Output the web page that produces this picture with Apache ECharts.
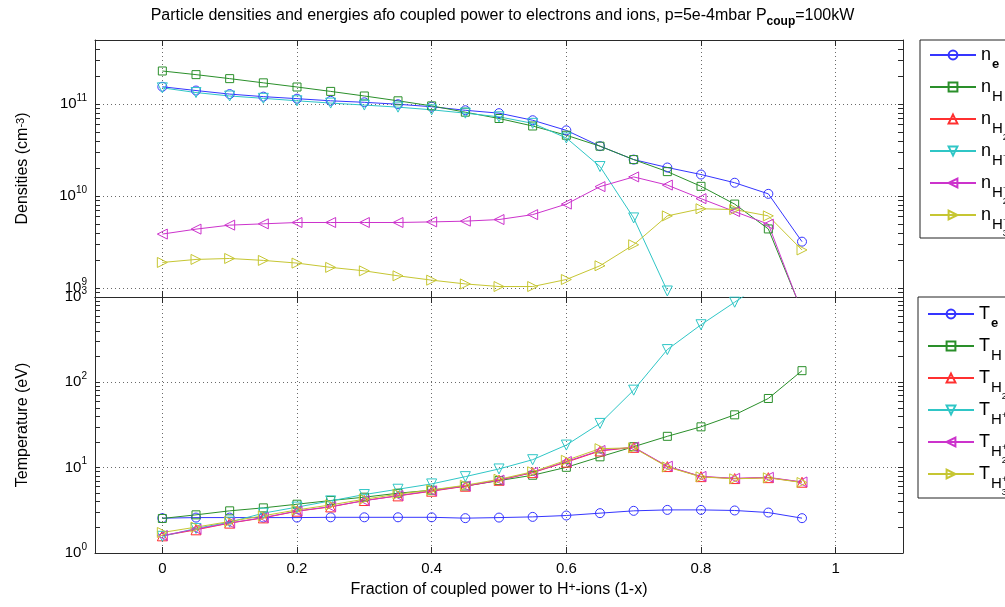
<!DOCTYPE html>
<html>
<head>
<meta charset="utf-8">
<script src="https://cdn.jsdelivr.net/npm/echarts@6/dist/echarts.min.js"></script>
<style>
  html, body { margin: 0; padding: 0; background: #fff; }
  #chart { width: 1005px; height: 607px; }
</style>
</head>
<body>
<div id="chart"></div>
<script>
// Fraction of coupled power to H+ ions (1-x)
const fraction = [0, 0.05, 0.1, 0.15, 0.2, 0.25, 0.3, 0.35, 0.4, 0.45,
                  0.5, 0.55, 0.6, 0.65, 0.7, 0.75, 0.8, 0.85, 0.9, 0.95];

// Densities (cm^-3)
const nE   = [1.55e11, 1.41e11, 1.29e11, 1.21e11, 1.15e11, 1.09e11, 1.05e11, 1.00e11, 9.4e10, 8.6e10,
              8.0e10, 6.7e10, 5.2e10, 3.5e10, 2.5e10, 2.05e10, 1.72e10, 1.40e10, 1.06e10, 3.2e9];
const nH   = [2.30e11, 2.10e11, 1.90e11, 1.71e11, 1.54e11, 1.38e11, 1.23e11, 1.09e11, 9.6e10, 8.2e10,
              7.0e10, 5.8e10, 4.6e10, 3.5e10, 2.5e10, 1.85e10, 1.28e10, 8.2e9, 4.4e9, 5.6e8];
const nH2  = [null, null, null, null, null, null, null, null, null, null,
              null, null, null, null, null, null, null, null, null, null];
const nHp  = [1.51e11, 1.34e11, 1.23e11, 1.16e11, 1.09e11, 1.03e11, 9.8e10, 9.3e10, 8.7e10, 8.0e10,
              7.3e10, 6.2e10, 4.3e10, 2.1e10, 5.8e9, 9.3e8, null, null, null, null];
const nH2p = [3.87e9, 4.38e9, 4.84e9, 5.0e9, 5.17e9, 5.17e9, 5.17e9, 5.17e9, 5.25e9, 5.35e9,
              5.57e9, 6.3e9, 8.2e9, 1.27e10, 1.62e10, 1.32e10, 9.4e9, 6.8e9, 4.96e9, 5.5e8];
const nH3p = [1.90e9, 2.05e9, 2.10e9, 2.0e9, 1.87e9, 1.68e9, 1.54e9, 1.36e9, 1.22e9, 1.11e9,
              1.04e9, 1.04e9, 1.24e9, 1.75e9, 2.96e9, 6.1e9, 7.3e9, 7.15e9, 6.1e9, 2.6e9];

// Temperatures (eV)
const tE   = [2.56, 2.6, 2.6, 2.6, 2.6, 2.62, 2.62, 2.62, 2.62, 2.56,
              2.6, 2.65, 2.75, 2.93, 3.12, 3.2, 3.2, 3.15, 2.98, 2.56];
const tH   = [2.54, 2.8, 3.12, 3.38, 3.73, 4.12, 4.51, 5.02, 5.45, 6.1,
              7.05, 8.15, 10.1, 13.4, 17.6, 23.3, 30.1, 41.6, 64.7, 137];
const tH2  = [1.59, 1.87, 2.24, 2.58, 3.09, 3.47, 4.12, 4.67, 5.3, 6.06,
              7.12, 8.75, 11.6, 15.7, 17.3, 10.3, 7.85, 7.45, 7.64, 6.75];
const tHp  = [1.57, 1.94, 2.3, 2.93, 3.45, 4.08, 4.84, 5.59, 6.45, 7.85,
              9.66, 12.4, 18.4, 33, 81, 242, 473, 869, 1600, 2800];
const tH2p = [1.6, 1.9, 2.25, 2.6, 3.1, 3.5, 4.1, 4.7, 5.35, 6.1,
              7.15, 8.8, 11.8, 15.9, 17.4, 10.4, 7.9, 7.5, 7.7, 6.8];
const tH3p = [1.74, 2.01, 2.34, 2.73, 3.2, 3.66, 4.27, 4.89, 5.49, 6.22,
              7.31, 8.95, 12.2, 16.7, 17.1, 10.2, 7.8, 7.4, 7.6, 6.7];

// Axis ticks
const xTicks = [0, 0.2, 0.4, 0.6, 0.8, 1];
const densityTicks = [1e9, 1e10, 1e11];
const tempTicks = [1, 10, 100, 1000];
const densityRange = [8e8, 5e11];
const tempRange = [1, 1000];
const xRange = [-0.1, 1.1];

const FONT = 'Arial, "Liberation Sans", Helvetica, sans-serif';
const AXIS_COLOR = '#2a2a2a';
const GRID_COLOR = '#6a6a6a';
const TICK_LEN = 5;

const colors = {
  blue: '#3535ff', green: '#2a8f2a', red: '#ff3030',
  cyan: '#2fc6c6', magenta: '#cc33cc', yellow: '#c6c632'
};

// marker: [symbol, rotate, size]
const markers = {
  circle: ['circle', 0, 9],
  square: ['rect', 0, 8],
  up: ['triangle', 0, 10],
  down: ['triangle', 180, 10],
  left: ['triangle', 90, 10],
  right: ['triangle', -90, 10]
};

const densitySeries = [
  { name: 'n_e',   data: nE,   color: colors.blue,    marker: 'circle' },
  { name: 'n_H',   data: nH,   color: colors.green,   marker: 'square' },
  { name: 'n_H2',  data: nH2,  color: colors.red,     marker: 'up' },
  { name: 'n_H+',  data: nHp,  color: colors.cyan,    marker: 'down' },
  { name: 'n_H2+', data: nH2p, color: colors.magenta, marker: 'left' },
  { name: 'n_H3+', data: nH3p, color: colors.yellow,  marker: 'right' }
];
const tempSeries = [
  { name: 'T_e',   data: tE,   color: colors.blue,    marker: 'circle' },
  { name: 'T_H',   data: tH,   color: colors.green,   marker: 'square' },
  { name: 'T_H2',  data: tH2,  color: colors.red,     marker: 'up' },
  { name: 'T_H+',  data: tHp,  color: colors.cyan,    marker: 'down' },
  { name: 'T_H2+', data: tH2p, color: colors.magenta, marker: 'left' },
  { name: 'T_H3+', data: tH3p, color: colors.yellow,  marker: 'right' }
];

// Rich-text legend labels: every token is top aligned and shifted down by its padding
const legendRich = {
  b:  { fontSize: 18, lineHeight: 18, fontFamily: FONT, color: '#000', verticalAlign: 'top' },
  e:  { fontSize: 13, lineHeight: 13, fontWeight: 'bold', fontFamily: FONT, color: '#000', verticalAlign: 'top', padding: [12, 0, 0, 1] },
  s:  { fontSize: 15, lineHeight: 15, fontFamily: FONT, color: '#000', verticalAlign: 'top', padding: [11, 0, 0, 1] },
  sp: { fontSize: 9,  lineHeight: 9,  fontFamily: FONT, color: '#000', verticalAlign: 'top', padding: [10, 0, 0, 0] },
  ss: { fontSize: 9,  lineHeight: 9,  fontFamily: FONT, color: '#000', verticalAlign: 'top', padding: [23, 0, 0, 0], width: 0.1 }
};
function legendText(name) {
  const [sym, sub] = name.split('_');
  const map = {
    'e':   '{e|e}{ss| }',
    'H':   '{s|H}{ss| }',
    'H2':  '{s|H}{ss|2}',
    'H+':  '{s|H}{ss| }{sp|+}',
    'H2+': '{s|H}{ss|2}{sp|+}',
    'H3+': '{s|H}{ss|3}{sp|+}'
  };
  return '{b|' + sym + '}' + map[sub];
}

function buildSeries(list, gridIdx) {
  return list.map(s => {
    const m = markers[s.marker];
    return {
      name: s.name,
      type: 'line',
      xAxisIndex: gridIdx * 2,
      yAxisIndex: gridIdx * 3,
      data: fraction.map((x, i) => [x, s.data[i]]),
      color: s.color,
      symbol: m[0],
      symbolRotate: m[1],
      symbolSize: m[2],
      showAllSymbol: true,
      connectNulls: false,
      clip: true,
      lineStyle: { color: s.color, width: 1 },
      itemStyle: { color: 'rgba(255,255,255,0)', borderColor: s.color, borderWidth: 1 },
      emphasis: { disabled: true }
    };
  });
}

// 1..9 × 10^k tick positions covering a log range
function logTicks(lo, hi) {
  const out = [];
  for (let d = Math.floor(Math.log10(lo)); d <= Math.ceil(Math.log10(hi)); d++) {
    for (let k = 1; k <= 9; k++) {
      const v = k * Math.pow(10, d);
      if (v >= lo * 0.999 && v <= hi * 1.001) out.push(v);
    }
  }
  return out;
}

const tickLabelRich = {
  b:   { fontSize: 15, lineHeight: 22, fontFamily: FONT, color: '#000' },
  sup: { fontSize: 10, lineHeight: 14, fontFamily: FONT, color: '#000', verticalAlign: 'top' }
};

function xAxes(gridIdx, showLabels) {
  const base = {
    type: 'value', gridIndex: gridIdx, min: xRange[0], max: xRange[1],
    axisLine: { show: true, onZero: false, lineStyle: { color: AXIS_COLOR, width: 1 } },
    axisTick: { show: true, inside: true, length: TICK_LEN + 1, customValues: xTicks, lineStyle: { color: AXIS_COLOR } }
  };
  const bottom = Object.assign({}, base, {
    position: 'bottom',
    axisLabel: {
      show: showLabels, customValues: xTicks, margin: 8,
      fontSize: 15, fontFamily: FONT, color: '#000'
    },
    splitLine: { show: true, lineStyle: { color: GRID_COLOR, type: [1, 3], width: 1 } }
  });
  if (showLabels) {
    bottom.name = 'Fraction of coupled power to H{sup|+}-ions (1-x)';
    bottom.nameLocation = 'middle';
    bottom.nameGap = 29;
    bottom.nameTextStyle = {
      fontSize: 16, fontFamily: FONT, color: '#000',
      rich: {
        sup: { fontSize: 12, lineHeight: 16, fontFamily: FONT, color: '#000', verticalAlign: 'top' }
      }
    };
  }
  const top = Object.assign({}, base, {
    position: 'top', axisLabel: { show: false }, splitLine: { show: false }
  });
  return [bottom, top];
}

function yAxes(gridIdx, range, majors, name) {
  const allTicks = logTicks(range[0], range[1]);
  const common = {
    type: 'log', logBase: 10, gridIndex: gridIdx, min: range[0], max: range[1]
  };
  const main = Object.assign({}, common, {
    position: 'left',
    name: name,
    nameLocation: 'middle',
    nameGap: 64,
    nameTextStyle: {
      fontSize: 16, fontFamily: FONT, color: '#000',
      rich: {
        sup: { fontSize: 11, lineHeight: 13, fontFamily: FONT, color: '#000', verticalAlign: 'top' }
      }
    },
    axisLine: { show: true, onZero: false, lineStyle: { color: AXIS_COLOR, width: 1 } },
    axisTick: { show: false, customValues: majors },
    axisLabel: {
      customValues: majors, margin: 8,
      formatter: v => '{b|10}{sup|' + Math.round(Math.log10(v)) + '}',
      rich: tickLabelRich
    },
    splitLine: { show: true, lineStyle: { color: GRID_COLOR, type: [1, 3], width: 1 } }
  });
  const leftTicks = Object.assign({}, common, {
    position: 'left',
    axisLine: { show: false, onZero: false },
    axisTick: { show: true, inside: true, length: TICK_LEN, customValues: allTicks, lineStyle: { color: AXIS_COLOR } },
    axisLabel: { show: false },
    splitLine: { show: false }
  });
  const right = Object.assign({}, common, {
    position: 'right',
    axisLine: { show: true, onZero: false, lineStyle: { color: AXIS_COLOR, width: 1 } },
    axisTick: { show: true, inside: true, length: TICK_LEN, customValues: allTicks, lineStyle: { color: AXIS_COLOR } },
    axisLabel: { show: false },
    splitLine: { show: false }
  });
  return [main, leftTicks, right];
}

function legendFor(list, top, left, padTop, padBottom) {
  return {
    orient: 'vertical',
    left: left,
    top: top,
    data: list.map(s => s.name),
    itemWidth: 46,
    itemHeight: 11,
    itemGap: 0,
    padding: [padTop, 40, padBottom, 9],
    borderColor: '#222',
    borderWidth: 1,
    backgroundColor: '#fff',
    selectedMode: false,
    formatter: legendText,
    textStyle: { fontFamily: FONT, color: '#000', rich: legendRich }
  };
}

const chart = echarts.init(document.getElementById('chart'), null, { renderer: 'canvas' });
chart.setOption({
  animation: false,
  backgroundColor: '#fff',
  title: {
    text: '{m|Particle densities and energies afo coupled power to electrons and ions, p=5e-4mbar P}{sub|coup}{m|=100kW}',
    left: 'center',
    top: 3,
    textStyle: {
      fontSize: 16, fontWeight: 'normal', fontFamily: FONT, color: '#000',
      rich: {
        m:   { fontSize: 16, lineHeight: 18, fontFamily: FONT, color: '#000', verticalAlign: 'top' },
        sub: { fontSize: 12, lineHeight: 12, fontWeight: 'bold', fontFamily: FONT, color: '#000', verticalAlign: 'top', padding: [8, 0, 0, 0] }
      }
    }
  },
  grid: [
    { left: 95, right: 102, top: 40, height: 257 },
    { left: 95, right: 102, top: 297, height: 256 }
  ],
  legend: [
    legendFor(densitySeries, 40, 920, 6, 0),
    legendFor(tempSeries, 297, 918, 8, 1)
  ],
  xAxis: [].concat(xAxes(0, false), xAxes(1, true)),
  yAxis: [].concat(
    yAxes(0, densityRange, densityTicks, 'Densities (cm{sup|-3})'),
    yAxes(1, tempRange, tempTicks, 'Temperature (eV)')
  ),
  series: [].concat(buildSeries(densitySeries, 0), buildSeries(tempSeries, 1))
});
</script>
</body>
</html>
